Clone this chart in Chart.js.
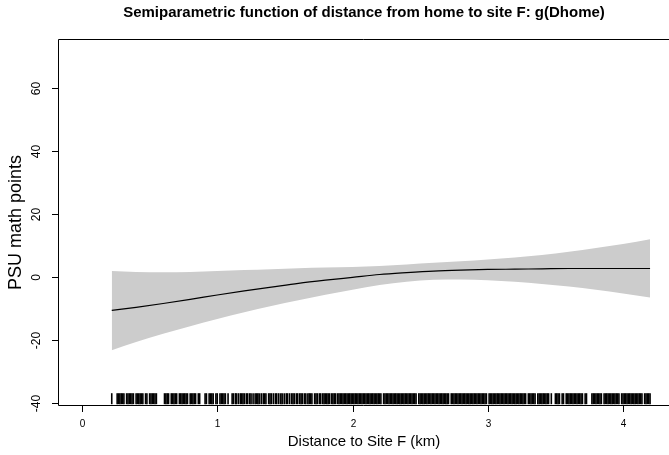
<!DOCTYPE html>
<html>
<head>
<meta charset="utf-8">
<script src="https://cdn.jsdelivr.net/npm/chart.js@4.4.0/dist/chart.umd.min.js"></script>
<style>
  body { margin: 0; background: #fff; }
  #wrap { width: 669px; height: 455px; }
</style>
</head>
<body>
<div id="wrap"><canvas id="chart-1"></canvas></div>
<script>
// smooth term g(Dhome) with its confidence band
const distance = [0.22, 0.4, 0.6, 0.8, 1.0, 1.2, 1.4, 1.6, 1.8, 2.0, 2.2, 2.4, 2.6, 2.8, 3.0, 3.2, 3.4, 3.6, 3.8, 4.0, 4.2];
const fit = [-10.6, -9.6, -8.4, -7.1, -5.7, -4.4, -3.2, -2.0, -1.0, -0.1, 0.8, 1.4, 1.9, 2.2, 2.4, 2.5, 2.6, 2.7, 2.7, 2.7, 2.7];
const upper = [1.9, 1.6, 1.5, 1.6, 1.9, 2.2, 2.5, 2.8, 3.0, 3.2, 3.5, 4.0, 4.5, 5.0, 5.6, 6.2, 7.0, 8.0, 9.2, 10.5, 12.0];
const lower = [-23.2, -20.6, -18.0, -15.6, -13.3, -11.2, -9.2, -7.4, -5.6, -4.0, -2.5, -1.5, -0.9, -0.8, -1.0, -1.5, -2.2, -3.0, -4.0, -5.2, -6.5];

// observed distances (rug along the x axis)
const rugDistance = [
  0.22, 0.26, 0.27, 0.28, 0.29, 0.30, 0.31, 0.33, 0.34, 0.35, 0.36, 0.37, 0.38, 0.40, 0.41, 0.42, 0.43, 0.44, 0.45, 0.47, 0.48,
  0.50, 0.51, 0.52, 0.53, 0.54, 0.55, 0.61, 0.62, 0.63, 0.64, 0.66, 0.67, 0.68, 0.69, 0.70, 0.72, 0.73, 0.74, 0.75, 0.76, 0.77, 0.78,
  0.80, 0.81, 0.82, 0.83, 0.84, 0.86, 0.87, 0.91, 0.92, 0.94, 0.95, 0.96, 0.97, 0.99, 1.00, 1.02, 1.03, 1.04, 1.05, 1.06, 1.08,
  1.11, 1.12, 1.135, 1.14, 1.155, 1.17, 1.18, 1.19,
  1.20, 1.215, 1.225, 1.24, 1.25, 1.265, 1.28, 1.29,
  1.30, 1.31, 1.325, 1.34, 1.35, 1.36, 1.38, 1.39,
  1.40, 1.415, 1.43, 1.44, 1.455, 1.47, 1.48, 1.495,
  1.51, 1.52, 1.535, 1.55, 1.56, 1.57, 1.585, 1.595,
  1.61, 1.62, 1.63, 1.645, 1.655, 1.67, 1.68, 1.69,
  1.70, 1.72, 1.73, 1.74, 1.755, 1.765, 1.78, 1.79,
  1.80, 1.81, 1.82, 1.83, 1.845, 1.855, 1.865, 1.875, 1.89,
  1.90, 1.91, 1.92, 1.93, 1.94, 1.95, 1.96, 1.97, 1.98, 1.99,
  2.00, 2.01, 2.02, 2.03, 2.04, 2.05, 2.06, 2.07, 2.08, 2.09,
  2.10, 2.11, 2.12, 2.13, 2.14, 2.15, 2.16, 2.17, 2.18, 2.19,
  2.20, 2.21, 2.23, 2.24, 2.25, 2.26, 2.27, 2.28, 2.29,
  2.30, 2.31, 2.32, 2.33, 2.34, 2.35, 2.36, 2.37, 2.38, 2.39,
  2.40, 2.41, 2.42, 2.43, 2.44, 2.45, 2.46, 2.47, 2.49,
  2.50, 2.51, 2.52, 2.53, 2.54, 2.55, 2.56, 2.57, 2.58, 2.59,
  2.60, 2.61, 2.62, 2.63, 2.64, 2.65, 2.66, 2.67, 2.68, 2.69,
  2.70, 2.71, 2.73, 2.74, 2.75, 2.76, 2.77, 2.78, 2.79,
  2.80, 2.81, 2.82, 2.83, 2.84, 2.85, 2.86, 2.87, 2.88, 2.89,
  2.90, 2.91, 2.92, 2.93, 2.94, 2.95, 2.96, 2.97, 2.98, 2.99,
  3.01, 3.02, 3.03, 3.04, 3.05, 3.06, 3.07, 3.08, 3.09,
  3.10, 3.11, 3.12, 3.13, 3.14, 3.15, 3.16, 3.17, 3.18, 3.19,
  3.20, 3.21, 3.22, 3.23, 3.24, 3.25, 3.26, 3.27, 3.28,
  3.30, 3.31, 3.32, 3.33, 3.34, 3.35, 3.37, 3.38, 3.39,
  3.40, 3.41, 3.42, 3.43, 3.44, 3.45, 3.47,
  3.50, 3.51, 3.52, 3.53, 3.55, 3.56, 3.58, 3.59,
  3.60, 3.61, 3.62, 3.63, 3.64, 3.65, 3.66, 3.67, 3.68, 3.69,
  3.70, 3.72, 3.73, 3.77, 3.78, 3.79,
  3.80, 3.81, 3.82, 3.83, 3.84, 3.86, 3.87, 3.88, 3.89,
  3.90, 3.91, 3.92, 3.93, 3.94, 3.95, 3.96, 3.97, 3.99,
  4.00, 4.01, 4.02, 4.03, 4.04, 4.05, 4.06, 4.07, 4.08, 4.09,
  4.10, 4.11, 4.12, 4.13, 4.14, 4.16, 4.17, 4.18, 4.19, 4.20
];

const xTicks = [0, 1, 2, 3, 4];
const yTicks = [-40, -20, 0, 20, 40, 60];

const FONT = "'Liberation Sans', Arial, Helvetica, sans-serif";
const RUG_Y = -38.6;

const toPts = (ys) => ys.map((v, i) => ({ x: distance[i], y: v }));

// R-style axes, box and labels drawn on top of the plot
const rAxes = {
  id: "rAxes",
  afterDraw(chart) {
    const { ctx, chartArea: a } = chart;
    const x = chart.scales.x;
    const y = chart.scales.y;
    ctx.save();
    ctx.strokeStyle = "#000";
    ctx.lineWidth = 1;
    ctx.beginPath();
    ctx.moveTo(a.right, a.top - 0.5);
    ctx.lineTo(a.left - 0.5, a.top - 0.5);
    ctx.lineTo(a.left - 0.5, a.bottom + 0.5);
    ctx.lineTo(a.right, a.bottom + 0.5);
    ctx.stroke();

    ctx.fillStyle = "#000";
    ctx.textAlign = "center";
    ctx.textBaseline = "middle";
    ctx.font = "10px " + FONT;
    xTicks.forEach((t) => {
      const px = Math.round(x.getPixelForValue(t)) + 0.5;
      ctx.beginPath();
      ctx.moveTo(px, a.bottom);
      ctx.lineTo(px, a.bottom + 7);
      ctx.stroke();
      ctx.fillText(String(t), px, a.bottom + 19);
    });
    ctx.font = "12px " + FONT;
    yTicks.forEach((t) => {
      const py = Math.round(y.getPixelForValue(t)) + 0.5;
      ctx.beginPath();
      ctx.moveTo(a.left, py);
      ctx.lineTo(a.left - 7, py);
      ctx.stroke();
      ctx.save();
      ctx.translate(a.left - 22, py);
      ctx.rotate(-Math.PI / 2);
      ctx.fillText(String(t), 0, 0);
      ctx.restore();
    });

    ctx.font = "15px " + FONT;
    ctx.fillText("Distance to Site F (km)", (a.left + a.right) / 2, 442);
    ctx.font = "18px " + FONT;
    ctx.save();
    ctx.translate(16, (a.top + a.bottom) / 2);
    ctx.rotate(-Math.PI / 2);
    ctx.fillText("PSU math points", 0, 0);
    ctx.restore();

    ctx.font = "bold 15px " + FONT;
    ctx.fillText("Semiparametric function of distance from home to site F: g(Dhome)", (a.left + a.right) / 2, 13);
    ctx.restore();
  },
};

new Chart(document.getElementById("chart-1"), {
  type: "line",
  data: {
    datasets: [
      {
        label: "upper",
        data: toPts(upper),
        borderWidth: 0,
        pointRadius: 0,
        backgroundColor: "#cccccc",
        fill: "+1",
        cubicInterpolationMode: "monotone",
        order: 3,
      },
      {
        label: "lower",
        data: toPts(lower),
        borderWidth: 0,
        pointRadius: 0,
        fill: false,
        cubicInterpolationMode: "monotone",
        order: 2,
      },
      {
        label: "g(Dhome)",
        data: toPts(fit),
        borderColor: "#000",
        borderWidth: 1.2,
        pointRadius: 0,
        fill: false,
        cubicInterpolationMode: "monotone",
        order: 0,
      },
      {
        label: "rug",
        data: rugDistance.map((d) => ({ x: d, y: RUG_Y })),
        showLine: false,
        pointStyle: "line",
        rotation: 90,
        pointRadius: 5.5,
        pointBorderWidth: 1.6,
        pointBorderColor: "#000",
        pointHoverRadius: 0,
        order: 1,
      },
    ],
  },
  options: {
    responsive: true,
    maintainAspectRatio: false,
    animation: { duration: 0 },
    events: [],
    layout: { autoPadding: false, padding: { left: 59, top: 40, right: 0, bottom: 50 } },
    scales: {
      x: { type: "linear", min: -0.17, max: 4.34, display: false },
      y: { type: "linear", min: -40.6, max: 75.2, display: false },
    },
    plugins: {
      legend: { display: false },
      tooltip: { enabled: false },
      title: { display: false },
    },
  },
  plugins: [rAxes],
});
</script>
</body>
</html>
